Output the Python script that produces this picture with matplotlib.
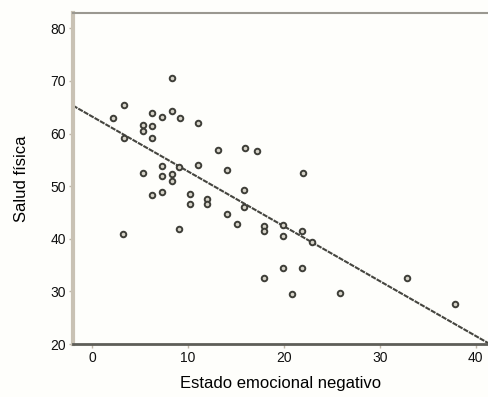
import numpy as np
import matplotlib
matplotlib.use("Agg")
import matplotlib.pyplot as plt

# points (estado emocional negativo, salud fisica)
emocion = [2.2, 3.3, 3.3, 3.2, 5.3, 5.3, 5.3, 6.3, 6.3, 6.3, 6.3,
           7.3, 7.3, 7.3, 7.3, 8.3, 8.3, 8.3, 8.3, 9.1, 9.2, 9.1,
           10.2, 10.2, 11.1, 11.1, 12.0, 12.0, 13.1, 14.1, 14.1, 15.1,
           16.0, 15.9, 15.9, 17.2, 17.9, 17.9, 17.9, 19.9, 19.9, 19.9,
           20.9, 22.0, 21.9, 21.9, 22.9, 25.9, 32.9, 37.9]
salud = [62.9, 65.5, 59.2, 40.9, 61.6, 60.4, 52.5, 64.0, 61.4, 59.2, 48.4,
         63.2, 53.9, 52.0, 48.8, 70.5, 64.2, 52.3, 50.9, 53.7, 63.0, 41.9,
         48.6, 46.7, 62.1, 54.1, 47.6, 46.7, 56.8, 53.0, 44.8, 42.8,
         57.2, 49.2, 46.0, 56.6, 42.4, 41.5, 32.6, 42.6, 40.6, 34.5,
         29.5, 52.5, 41.5, 34.5, 39.3, 29.7, 32.6, 27.6]

# recta de regresion ajustada a los puntos
pendiente, intercepto = np.polyfit(emocion, salud, 1)

plt.rcParams['font.family'] = ['Liberation Sans', 'DejaVu Sans']

fig = plt.figure(figsize=(4.89, 3.97), dpi=100)
fig.patch.set_facecolor('#fefefb')
ax = fig.add_axes([0.149, 0.1335, 0.851, 0.8335])
ax.set_facecolor('#fefefb')

ax.scatter(emocion, salud, s=16, facecolor='#d6d3c8', edgecolor='#3e3e38',
           linewidths=1.4, zorder=3)

xs = np.array([-2, 42])
ax.plot(xs, intercepto + pendiente * xs, color='#45453f', lw=1.5,
        linestyle=(0, (2.5, 0.5)), zorder=2)

ax.set_xlim(-2, 41.4)
ax.set_ylim(20, 82.9)
ax.set_xticks([0, 10, 20, 30, 40])
ax.set_yticks([20, 30, 40, 50, 60, 70, 80])

ax.spines['right'].set_visible(False)
ax.spines['left'].set_color('#c9c2b4')
ax.spines['left'].set_linewidth(3)
ax.spines['bottom'].set_color('#5e5e58')
ax.spines['bottom'].set_linewidth(2)
ax.spines['top'].set_color('#9a9890')
ax.spines['top'].set_linewidth(1.5)

ax.tick_params(axis='both', length=3, width=1, color='#bdb6a8',
               labelsize=10, labelcolor='#111111', pad=2)

ax.set_xlabel("Estado emocional negativo", fontsize=12, labelpad=8)
ax.set_ylabel("Salud física", fontsize=12, labelpad=15)

fig.savefig("out.png", dpi=100, facecolor=fig.get_facecolor())
